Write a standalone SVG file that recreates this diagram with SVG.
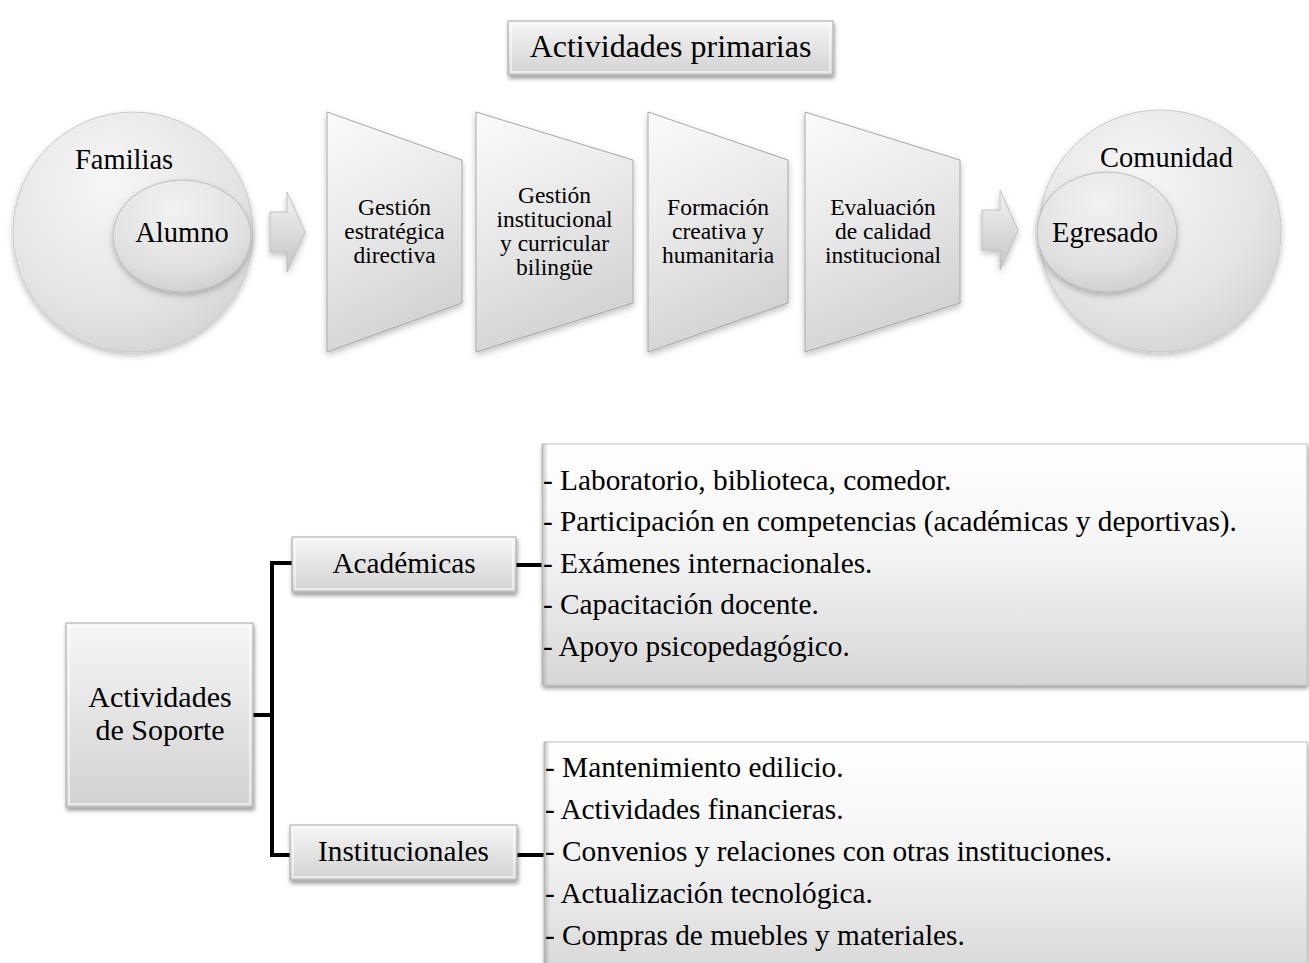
<svg xmlns="http://www.w3.org/2000/svg" width="1309" height="963" viewBox="0 0 1309 963">
<defs>
  <linearGradient id="gBox" x1="0" y1="0" x2="0" y2="1">
    <stop offset="0" stop-color="#f6f6f6"/>
    <stop offset="0.5" stop-color="#e4e4e4"/>
    <stop offset="1" stop-color="#d2d2d2"/>
  </linearGradient>
  <linearGradient id="gList" x1="0" y1="0" x2="0" y2="1">
    <stop offset="0" stop-color="#ffffff"/>
    <stop offset="0.45" stop-color="#f4f4f4"/>
    <stop offset="1" stop-color="#d6d6d6"/>
  </linearGradient>
  <linearGradient id="gTrap" x1="0" y1="0" x2="0.3" y2="1">
    <stop offset="0" stop-color="#fbfbfb"/>
    <stop offset="0.5" stop-color="#e9e9e9"/>
    <stop offset="1" stop-color="#d3d3d3"/>
  </linearGradient>
  <linearGradient id="gEdgeL" x1="0" y1="0" x2="1" y2="0">
    <stop offset="0" stop-color="#9a9a9a"/>
    <stop offset="1" stop-color="#9a9a9a" stop-opacity="0"/>
  </linearGradient>
  <linearGradient id="gArrow" x1="0" y1="0" x2="0" y2="1">
    <stop offset="0" stop-color="#f2f2f2"/>
    <stop offset="0.5" stop-color="#dcdcdc"/>
    <stop offset="1" stop-color="#c4c4c4"/>
  </linearGradient>
  <radialGradient id="gCircle" cx="0.4" cy="0.3" r="0.75">
    <stop offset="0" stop-color="#f6f6f6"/>
    <stop offset="0.7" stop-color="#e4e4e4"/>
    <stop offset="1" stop-color="#d4d4d4"/>
  </radialGradient>
  <radialGradient id="gInner" cx="0.45" cy="0.25" r="0.8">
    <stop offset="0" stop-color="#f2f2f2"/>
    <stop offset="0.7" stop-color="#e0e0e0"/>
    <stop offset="1" stop-color="#cdcdcd"/>
  </radialGradient>
  <filter id="shadow" x="-10%" y="-10%" width="120%" height="130%">
    <feDropShadow dx="1" dy="3" stdDeviation="2" flood-color="#000" flood-opacity="0.4"/>
  </filter>
  <filter id="softshadow" x="-10%" y="-10%" width="120%" height="130%">
    <feDropShadow dx="0" dy="3" stdDeviation="3" flood-color="#000" flood-opacity="0.25"/>
  </filter>
</defs>
<style>
  text { font-family: "Liberation Serif", "Times New Roman", serif; fill: #000; }
  .box { fill: url(#gBox); stroke: #a8a8a8; stroke-width: 1; filter: url(#shadow); }
  .list { fill: url(#gList); stroke: #c0c0c0; stroke-width: 1; filter: url(#shadow); }
  .bevel { fill: none; stroke: #ffffff; stroke-opacity: 0.7; stroke-width: 1.5; }
  .trap { fill: url(#gTrap); stroke: #a8a8a8; stroke-width: 1; filter: url(#softshadow); }
  .arrow { fill: url(#gArrow); stroke: #b8b8b8; stroke-width: 0.8; filter: url(#softshadow); }
  .circle { fill: url(#gCircle); stroke: #cacaca; stroke-width: 1; filter: url(#softshadow); }
  .inner { fill: url(#gInner); stroke: #bdbdbd; stroke-width: 1; filter: url(#softshadow); }
  .conn { fill: none; stroke: #000; stroke-width: 4; stroke-linejoin: miter; }
  .t23 { font-size: 23.5px; text-anchor: middle; }
  .t28 { font-size: 28.5px; }
  .t29 { font-size: 29.3px; }
  .mid { text-anchor: middle; }
</style>

<g id="connectors">
  <path class="conn" d="M253,715 H272"/>
  <path class="conn" d="M292,563 H272 V855 H290"/>
  <path class="conn" d="M516,565 H542"/>
  <path class="conn" d="M517,855 H544"/>
</g>

<g id="title">
  <rect class="box" x="508" y="21" width="325" height="54"/>
  <rect class="bevel" x="511" y="24" width="319" height="48"/>
  <text x="670.5" y="57" class="mid" style="font-size:32px">Actividades primarias</text>
</g>

<g id="familias">
  <circle class="circle" cx="133" cy="232" r="120"/>
  <text x="75" y="169" class="t28">Familias</text>
</g>
<g id="alumno">
  <ellipse class="inner" cx="182" cy="236" rx="69" ry="56"/>
  <text x="182" y="242" class="t28 mid">Alumno</text>
</g>

<g id="arrow1">
  <polygon class="arrow" points="270,212 287,212 287,192 305,232 287,272 287,252 270,252"/>
</g>

<g id="gestion-estrategica">
  <polygon class="trap" points="327,112 462,160 462,303 327,352"/>
  <text class="t23" x="394.5" y="215">Gestión</text>
  <text class="t23" x="394.5" y="239">estratégica</text>
  <text class="t23" x="394.5" y="263">directiva</text>
</g>
<g id="gestion-institucional">
  <polygon class="trap" points="476,112 633,160 633,303 476,352"/>
  <text class="t23" x="554.5" y="203">Gestión</text>
  <text class="t23" x="554.5" y="227">institucional</text>
  <text class="t23" x="554.5" y="251">y curricular</text>
  <text class="t23" x="554.5" y="275">bilingüe</text>
</g>
<g id="formacion">
  <polygon class="trap" points="648,112 788,160 788,303 648,352"/>
  <text class="t23" x="718" y="215">Formación</text>
  <text class="t23" x="718" y="239">creativa y</text>
  <text class="t23" x="718" y="263">humanitaria</text>
</g>
<g id="evaluacion">
  <polygon class="trap" points="805,112 960,160 960,303 805,352"/>
  <text class="t23" x="883" y="215">Evaluación</text>
  <text class="t23" x="883" y="239">de calidad</text>
  <text class="t23" x="883" y="263">institucional</text>
</g>

<g id="arrow2">
  <polygon class="arrow" points="982,210 1000,210 1000,190 1018,230 1000,270 1000,250 982,250"/>
</g>

<g id="comunidad">
  <circle class="circle" cx="1160" cy="231" r="121"/>
  <text x="1100" y="167" class="t28">Comunidad</text>
</g>
<g id="egresado">
  <ellipse class="inner" cx="1107" cy="232" rx="70" ry="60"/>
  <text x="1105" y="242" class="t28 mid">Egresado</text>
</g>

<g id="soporte">
  <rect class="box" x="66" y="623" width="187" height="184"/>
  <rect class="bevel" x="69" y="626" width="181" height="178"/>
  <text x="160" y="707" class="mid" style="font-size:30px">Actividades</text>
  <text x="160" y="740" class="mid" style="font-size:30px">de Soporte</text>
</g>

<g id="academicas">
  <rect class="box" x="292" y="537" width="224" height="55"/>
  <rect class="bevel" x="295" y="540" width="218" height="49"/>
  <text x="404" y="573" class="t29 mid">Académicas</text>
</g>

<g id="institucionales">
  <rect class="box" x="290" y="825" width="227" height="55"/>
  <rect class="bevel" x="293" y="828" width="221" height="49"/>
  <text x="403.5" y="861" class="t29 mid">Institucionales</text>
</g>

<g id="lista-academicas">
  <rect class="list" x="542" y="444" width="765" height="241"/>
  <rect x="542" y="444" width="6" height="241" fill="url(#gEdgeL)" opacity="0.6"/>
  <text x="543" y="490" class="t29">- Laboratorio, biblioteca, comedor.</text>
  <text x="543" y="531" class="t29">- Participación en competencias (académicas y deportivas).</text>
  <text x="543" y="573" class="t29">- Exámenes internacionales.</text>
  <text x="543" y="614" class="t29">- Capacitación docente.</text>
  <text x="543" y="656" class="t29">- Apoyo psicopedagógico.</text>
</g>

<g id="lista-institucionales">
  <rect class="list" x="544" y="742" width="763" height="240"/>
  <rect x="544" y="742" width="6" height="240" fill="url(#gEdgeL)" opacity="0.6"/>
  <text x="545" y="777" class="t29">- Mantenimiento edilicio.</text>
  <text x="545" y="819" class="t29">- Actividades financieras.</text>
  <text x="545" y="861" class="t29">- Convenios y relaciones con otras instituciones.</text>
  <text x="545" y="903" class="t29">- Actualización tecnológica.</text>
  <text x="545" y="945" class="t29">- Compras de muebles y materiales.</text>
</g>
</svg>
